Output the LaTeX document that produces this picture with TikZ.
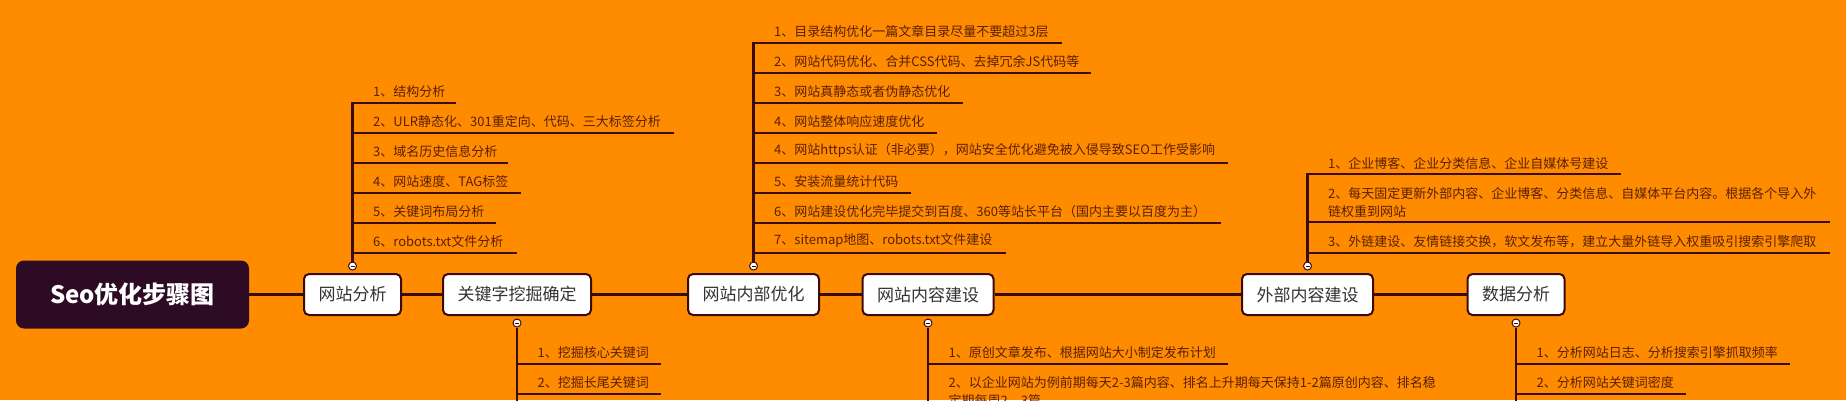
\documentclass[tikz,border=0pt]{standalone}
\usepackage{fontspec}
\setmainfont{Noto Sans CJK SC}
\definecolor{bg}{HTML}{FF8C00}
\definecolor{ln}{HTML}{3A0B0B}
\definecolor{itx}{HTML}{5B1F00}
\definecolor{rootc}{HTML}{2D0B24}
\definecolor{boxtx}{HTML}{333333}
\tikzset{
  conn/.style={draw=ln, line width=2.2pt},
  rootbox/.style={rectangle, rounded corners=8pt, fill=rootc, minimum width=233pt, minimum height=68pt, text=white, font=\fontsize{24}{28}\selectfont\bfseries, inner sep=0pt},
  topicbox/.style={rectangle, rounded corners=5pt, fill=white, draw=ln, line width=2pt, minimum height=41pt, text=boxtx, font=\fontsize{17}{20}\selectfont, inner sep=0pt},
  itembox/.style={anchor=south west, inner xsep=0pt, inner ysep=5pt, align=left, text=itx, font=\fontsize{13}{17.4}\selectfont},
  fold/.style={circle, draw=ln, fill=white, line width=1pt, minimum size=8pt, inner sep=0pt,
    path picture={\draw[ln, line width=0.9pt] ([xshift=-2pt]path picture bounding box.center) -- ([xshift=2pt]path picture bounding box.center);}},
}
\begin{document}
\begin{tikzpicture}[x=1pt, y=-1pt]
\clip (0,0) rectangle (1846,400);
\fill[bg] (0,0) rectangle (1846,400);

% main chain
\node[rootbox] (root) at (132.5,294.5) {Seo优化步骤图};
\node[topicbox, minimum width=97pt] (t1) at (352.5,294.5) {网站分析};
\node[topicbox, minimum width=148pt] (t2) at (517,294.5) {关键字挖掘确定};
\node[topicbox, minimum width=131pt] (t3) at (753.5,294.5) {网站内部优化};
\node[topicbox, minimum width=131pt] (t4) at (928,294.5) {网站内容建设};
\node[topicbox, minimum width=131pt] (t5) at (1307.5,294.5) {外部内容建设};
\node[topicbox, minimum width=97pt] (t6) at (1516,294.5) {数据分析};

\draw[conn] (root.east) -- (t1.west);
\draw[conn] (t1.east) -- (t2.west);
\draw[conn] (t2.east) -- (t3.west);
\draw[conn] (t3.east) -- (t4.west);
\draw[conn] (t4.east) -- (t5.west);
\draw[conn] (t5.east) -- (t6.west);

% fold markers
\node[fold] (f1) at ([yshift=7pt]t1.north) {};
\node[fold] (f2) at ([yshift=-7pt]t2.south) {};
\node[fold] (f3) at ([yshift=7pt]t3.north) {};
\node[fold] (f4) at ([yshift=-7pt]t4.south) {};
\node[fold] (f5) at ([yshift=7pt]t5.north) {};
\node[fold] (f6) at ([yshift=-7pt]t6.south) {};

% branch 1: 网站分析
\node[itembox, text width=83pt] (a1) at (373,102.7) {1、结构分析};
\node[itembox, text width=301pt] (a2) at (373,132.7) {2、ULR静态化、301重定向、代码、三大标签分析};
\node[itembox, text width=135pt] (a3) at (373,162.7) {3、域名历史信息分析};
\node[itembox, text width=148pt] (a4) at (373,192.7) {4、网站速度、TAG标签};
\node[itembox, text width=122.5pt] (a5) at (373,222.7) {5、关键词布局分析};
\node[itembox, text width=144pt] (a6) at (373,252.7) {6、robots.txt文件分析};
\draw[conn] (f1.north) -- (f1 |- a1.south) -- (a1.south east);
\foreach \n in {a2,a3,a4,a5,a6} \draw[conn] (f1 |- \n.south) -- (\n.south east);

% branch 2: 关键字挖掘确定
\node[itembox, text width=123pt] (b1) at (537.5,364) {1、挖掘核心关键词};
\node[itembox, text width=123pt] (b2) at (537.5,394) {2、挖掘长尾关键词};
\coordinate (b9) at (517,420);
\draw[conn] (f2.south) -- (b9);
\foreach \n in {b1,b2} \draw[conn] (f2 |- \n.south) -- (\n.south east);

% branch 3: 网站内部优化
\node[itembox, text width=287.6pt] (c1) at (774,42.7) {1、目录结构优化一篇文章目录尽量不要超过3层};
\node[itembox, text width=317pt] (c2) at (774,72.7) {2、网站代码优化、合并CSS代码、去掉冗余JS代码等};
\node[itembox, text width=188.5pt] (c3) at (774,102.7) {3、网站真静态或者伪静态优化};
\node[itembox, text width=162.5pt] (c4) at (774,132.7) {4、网站整体响应速度优化};
\node[itembox, text width=454pt] (c5) at (774,162.7) {4、网站https认证（非必要），网站安全优化避免被入侵导致SEO工作受影响};
\node[itembox, text width=136.5pt] (c6) at (774,192.7) {5、安装流量统计代码};
\node[itembox, text width=446.5pt] (c7) at (774,222.7) {6、网站建设优化完毕提交到百度、360等站长平台（国内主要以百度为主）};
\node[itembox, text width=231.4pt] (c8) at (774,252.7) {7、sitemap地图、robots.txt文件建设};
\draw[conn] (f3.north) -- (f3 |- c1.south) -- (c1.south east);
\foreach \n in {c2,c3,c4,c5,c6,c7,c8} \draw[conn] (f3 |- \n.south) -- (\n.south east);

% branch 4: 网站内容建设
\node[itembox, text width=279.5pt] (d1) at (948.5,364) {1、原创文章发布、根据网站大小制定发布计划};
\node[itembox, text width=504.5pt] (d2) at (948.5,411.4) {2、以企业网站为例前期每天2-3篇内容、排名上升期每天保持1-2篇原创内容、排名稳\\定期每周2、3篇};
\coordinate (d9) at (928,420);
\draw[conn] (f4.south) -- (d9);
\foreach \n in {d1,d2} \draw[conn] (f4 |- \n.south) -- (\n.south east);

% branch 5: 外部内容建设
\node[itembox, text width=292.6pt] (e1) at (1328,174.3) {1、企业博客、企业分类信息、企业自媒体号建设};
\node[itembox, text width=501.7pt] (e2) at (1328,222.3) {2、每天固定更新外部内容、企业博客、分类信息、自媒体平台内容。根据各个导入外\\链权重到网站};
\node[itembox, text width=501.7pt] (e3) at (1328,252.7) {3、外链建设、友情链接交换，软文发布等，建立大量外链导入权重吸引搜索引擎爬取};
\draw[conn] (f5.north) -- (f5 |- e1.south) -- (e1.south east);
\foreach \n in {e2,e3} \draw[conn] (f5 |- \n.south) -- (\n.south east);

% branch 6: 数据分析
\node[itembox, text width=253pt] (g1) at (1536.5,364) {1、分析网站日志、分析搜索引擎抓取频率};
\node[itembox, text width=149.5pt] (g2) at (1536.5,394) {2、分析网站关键词密度};
\coordinate (g9) at (1516,420);
\draw[conn] (f6.south) -- (g9);
\foreach \n in {g1,g2} \draw[conn] (f6 |- \n.south) -- (\n.south east);
\end{tikzpicture}
\end{document}
